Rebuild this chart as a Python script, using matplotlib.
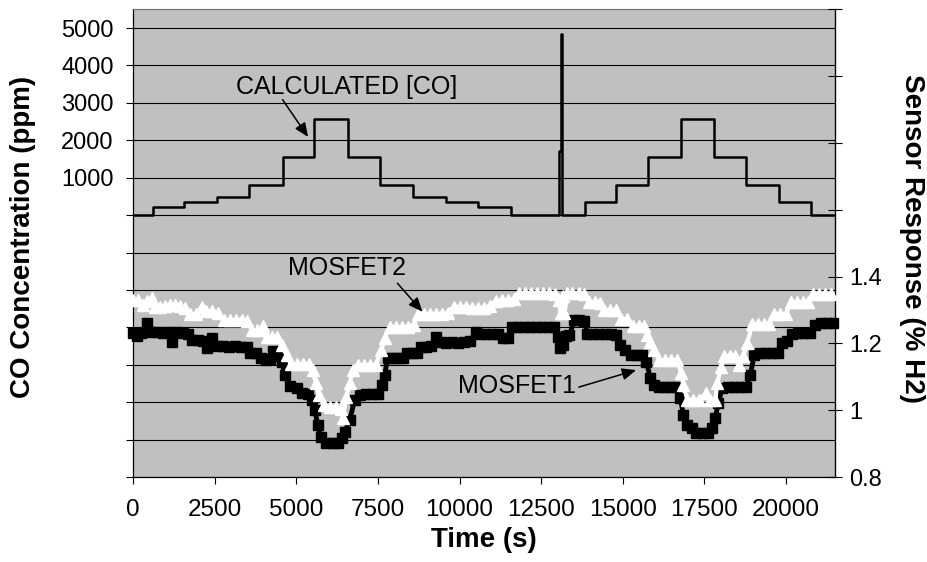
import matplotlib
matplotlib.use('Agg')
import matplotlib.pyplot as plt
from matplotlib import font_manager as fm
from matplotlib.ticker import FixedLocator, FixedFormatter

# ---------------- data ----------------
# Calculated CO concentration (ppm), step changes (steps-post)
co_time = [0, 604, 1570, 2581, 3562, 4578, 5549, 6570, 7556, 8558, 9569,
           10565, 11566, 13040, 13105, 13140, 13830, 14781, 15767, 16768,
           17780, 18776, 19777, 20768, 21500]
co_ppm = [0, 206, 340, 490, 800, 1550, 2570, 1550, 800, 490, 340,
          206, 0, 1720, 4845, 0, 340, 800, 1550, 2570,
          1550, 800, 340, 0, 0]

# MOSFET1 response (% H2)
m1_time = [0, 116, 239, 413, 545, 728, 912, 1065, 1178, 1340,
           1524, 1677, 1799, 1983, 2136, 2249, 2402, 2564, 2748, 2931,
           3115, 3299, 3473, 3574, 3758, 3911, 4064, 4186, 4278, 4431,
           4553, 4645, 4798, 5003, 5165, 5349, 5471, 5563, 5655, 5747,
           5921, 6114, 6276, 6389, 6481, 6634, 6787, 6940, 7124, 7307,
           7491, 7613, 7705, 7797, 7950, 8103, 8256, 8378, 8531, 8684,
           8807, 8960, 9113, 9287, 9419, 9572, 9755, 9939, 10123, 10306,
           10511, 10612, 10796, 10979, 11163, 11316, 11469, 11591, 11775, 11959,
           12142, 12326, 12509, 12693, 12877, 12999, 13060, 13152, 13244, 13366,
           13519, 13672, 13825, 13917, 14100, 14284, 14468, 14651, 14804, 14926,
           15079, 15263, 15446, 15599, 15722, 15844, 15966, 16119, 16303, 16487,
           16640, 16762, 16854, 16976, 17129, 17252, 17435, 17619, 17741, 17833,
           17925, 18047, 18231, 18414, 18598, 18782, 18904, 19026, 19210, 19393,
           19577, 19761, 19883, 20036, 20189, 20372, 20556, 20739, 20892, 21076,
           21260, 21443]
m1_resp = [1.231, 1.222, 1.231, 1.261, 1.234, 1.234, 1.231, 1.234, 1.204, 1.234,
           1.231, 1.228, 1.210, 1.210, 1.207, 1.186, 1.216, 1.192, 1.192, 1.189,
           1.192, 1.189, 1.189, 1.171, 1.171, 1.156, 1.150, 1.153, 1.177, 1.162,
           1.144, 1.105, 1.072, 1.066, 1.051, 1.049, 1.031, 1.001, 0.956, 0.920,
           0.902, 0.902, 0.902, 0.917, 0.935, 0.971, 1.031, 1.046, 1.049, 1.049,
           1.049, 1.075, 1.105, 1.156, 1.156, 1.156, 1.156, 1.171, 1.171, 1.171,
           1.189, 1.189, 1.192, 1.219, 1.204, 1.201, 1.204, 1.201, 1.204, 1.207,
           1.234, 1.228, 1.228, 1.228, 1.228, 1.216, 1.216, 1.249, 1.249, 1.249,
           1.249, 1.249, 1.249, 1.249, 1.249, 1.219, 1.186, 1.195, 1.222, 1.225,
           1.270, 1.270, 1.267, 1.228, 1.228, 1.228, 1.228, 1.228, 1.225, 1.195,
           1.180, 1.165, 1.165, 1.165, 1.144, 1.096, 1.075, 1.069, 1.069, 1.069,
           1.069, 1.037, 0.986, 0.956, 0.947, 0.932, 0.932, 0.932, 0.947, 0.977,
           1.022, 1.066, 1.069, 1.069, 1.069, 1.069, 1.105, 1.165, 1.171, 1.171,
           1.171, 1.171, 1.201, 1.207, 1.228, 1.231, 1.231, 1.231, 1.255, 1.261,
           1.261, 1.261]

# MOSFET2 response (% H2)
m2_time = [0, 147, 300, 422, 566, 667, 820, 973, 1126, 1279,
           1432, 1585, 1738, 1921, 2096, 2228, 2411, 2595, 2778, 2962,
           3146, 3329, 3482, 3635, 3788, 3911, 3972, 4094, 4247, 4400,
           4544, 4697, 4829, 5012, 5196, 5379, 5502, 5594, 5686, 5839,
           6022, 6206, 6359, 6420, 6533, 6634, 6726, 6879, 7062, 7246,
           7429, 7604, 7705, 7858, 8042, 8225, 8409, 8593, 8715, 8899,
           9083, 9266, 9450, 9633, 9817, 10000, 10184, 10367, 10551, 10735,
           10918, 11102, 11285, 11469, 11653, 11806, 11989, 12173, 12356, 12540,
           12724, 12907, 13030, 13091, 13152, 13213, 13305, 13458, 13642, 13825,
           13978, 14162, 14315, 14437, 14621, 14804, 14957, 15141, 15324, 15508,
           15661, 15753, 15844, 15967, 16120, 16303, 16487, 16670, 16784, 16854,
           16976, 17160, 17344, 17549, 17680, 17833, 17895, 18008, 18109, 18293,
           18446, 18568, 18690, 18813, 18966, 19149, 19333, 19486, 19639, 19822,
           20006, 20159, 20342, 20526, 20679, 20832, 21016, 21199, 21383]
m2_resp = [1.330, 1.330, 1.315, 1.327, 1.336, 1.309, 1.309, 1.312, 1.315, 1.315,
           1.312, 1.306, 1.288, 1.288, 1.309, 1.297, 1.297, 1.291, 1.270, 1.270,
           1.270, 1.270, 1.267, 1.240, 1.240, 1.240, 1.252, 1.219, 1.219, 1.219,
           1.195, 1.165, 1.138, 1.138, 1.138, 1.138, 1.120, 1.081, 1.046, 1.016,
           1.010, 1.010, 1.004, 0.977, 1.040, 1.081, 1.120, 1.135, 1.135, 1.135,
           1.135, 1.180, 1.216, 1.249, 1.249, 1.249, 1.249, 1.255, 1.288, 1.288,
           1.288, 1.288, 1.288, 1.291, 1.309, 1.309, 1.309, 1.306, 1.306, 1.306,
           1.312, 1.327, 1.330, 1.330, 1.333, 1.351, 1.351, 1.351, 1.351, 1.351,
           1.351, 1.348, 1.330, 1.291, 1.342, 1.291, 1.351, 1.351, 1.351, 1.348,
           1.324, 1.324, 1.321, 1.300, 1.300, 1.300, 1.273, 1.273, 1.252, 1.252,
           1.252, 1.225, 1.204, 1.180, 1.150, 1.150, 1.150, 1.150, 1.111, 1.075,
           1.031, 1.031, 1.031, 1.051, 1.031, 1.031, 1.081, 1.129, 1.162, 1.162,
           1.162, 1.135, 1.162, 1.201, 1.258, 1.258, 1.258, 1.258, 1.288, 1.288,
           1.288, 1.324, 1.324, 1.324, 1.324, 1.348, 1.348, 1.348, 1.348]

x_ticks = [0, 2500, 5000, 7500, 10000, 12500, 15000, 17500, 20000]
x_labels = ['0', '2500', '5000', '7500', '10000', '12500', '15000', '17500', '20000']
left_ticks = [-7000, -6000, -5000, -4000, -3000, -2000, -1000, 0,
              1000, 2000, 3000, 4000, 5000]
left_labels = ['', '', '', '', '', '', '', '', '1000', '2000', '3000', '4000', '5000']
right_ticks = [0.8, 1.0, 1.2, 1.4, 1.6, 1.8, 2.0, 2.2]
right_labels = ['0.8', '1', '1.2', '1.4', '', '', '', '']

# ---------------- fonts ----------------
avail = {f.name for f in fm.fontManager.ttflist}
BASE = 'Liberation Sans'
if 'Liberation Sans Narrow' in avail:
    NARROW, XT_SIZE, XL_SIZE = 'Liberation Sans Narrow', 21, 22
else:
    NARROW, XT_SIZE, XL_SIZE = 'Liberation Sans', 17.5, 20
plt.rcParams['font.family'] = [BASE, 'DejaVu Sans']

# ---------------- figure ----------------
W, H = 927, 562
L, R, T, B = 133.2, 835.0, 9.3, 477.0
fig = plt.figure(figsize=(W / 100, H / 100), dpi=100)
ax = fig.add_axes([L / W, 1 - B / H, (R - L) / W, (B - T) / H])
ax.set_facecolor('#C0C0C0')
ax.set_xlim(0, 21500)
ax.set_ylim(-7000, 5500)

ax.xaxis.set_major_locator(FixedLocator(x_ticks))
ax.xaxis.set_major_formatter(FixedFormatter(x_labels))
ax.yaxis.set_major_locator(FixedLocator(left_ticks))
ax.yaxis.set_major_formatter(FixedFormatter(left_labels))
ax.grid(axis='y', color='black', lw=0.8)
ax.set_axisbelow(True)

ax.step(co_time, co_ppm, where='post', color='black', lw=1.8, zorder=3)

ax.tick_params(axis='y', direction='out', length=5, width=0.8, pad=9,
               labelsize=17, colors='black')
ax.tick_params(axis='x', direction='out', length=5, width=0.8, pad=11)
for lbl in ax.get_xticklabels():
    lbl.set_fontfamily(NARROW)
    lbl.set_fontsize(XT_SIZE)

for s in ['left', 'bottom']:
    ax.spines[s].set_color('black')
    ax.spines[s].set_linewidth(0.9)
ax.spines['top'].set_color('#707070')
ax.spines['right'].set_color('black')

ax.set_ylabel('CO Concentration (ppm)', fontsize=20, fontweight='bold',
              ha='center', va='center')
ax.yaxis.set_label_coords((22.5 - L) / (R - L), (B - 236.5) / (B - T))
ax.set_xlabel('Time (s)', fontsize=XL_SIZE, fontweight='bold', family=NARROW,
              ha='center', va='center')
ax.xaxis.set_label_coords(0.5, (B - 540) / (B - T))

ax.text(6527, 3426, 'CALCULATED [CO]', fontsize=18, ha='center', va='center',
        zorder=4)
ax.annotate('', xy=(5358, 2088), xytext=(4575, 3086),
            arrowprops=dict(arrowstyle='-|>,head_length=0.7,head_width=0.3',
                            color='black', lw=1.1, shrinkA=0, shrinkB=0,
                            mutation_scale=12), zorder=4)

# ---------------- right axis ----------------
ax2 = ax.twinx()
ax2.set_ylim(0.8, 2.2)
ax2.yaxis.set_major_locator(FixedLocator(right_ticks))
ax2.yaxis.set_major_formatter(FixedFormatter(right_labels))
ax2.tick_params(axis='y', direction='inout', length=10, width=0.8, pad=5,
                labelsize=17)
for s in ['left', 'top', 'bottom']:
    ax2.spines[s].set_visible(False)
ax2.spines['right'].set_color('black')
ax2.spines['right'].set_linewidth(0.9)

ax2.plot(m1_time, m1_resp, color='black', lw=3.5, marker='s', ms=7.5,
         mfc='black', mec='black', solid_joinstyle='miter',
         clip_on=False, zorder=3)
ax2.plot(m2_time, m2_resp, color='white', lw=3.0, marker='^', ms=8.5,
         mfc='white', mec='white', clip_on=False, zorder=4)

ax2.set_ylabel('Sensor Response (% H2)', fontsize=20, fontweight='bold',
               rotation=270, ha='center', va='center')
ax2.yaxis.set_label_coords((912 - L) / (R - L), (B - 238.5) / (B - T))

ax2.text(6558, 1.426, 'MOSFET2', fontsize=18, ha='center', va='center', zorder=5)
ax2.annotate('', xy=(8859, 1.295), xytext=(8094, 1.380),
             arrowprops=dict(arrowstyle='-|>,head_length=0.7,head_width=0.3',
                             color='black', lw=1.1, shrinkA=0, shrinkB=0,
                             mutation_scale=12), zorder=5)
ax2.text(11760, 1.072, 'MOSFET1', fontsize=18, ha='center', va='center', zorder=5)
ax2.annotate('', xy=(15407, 1.120), xytext=(13651, 1.069),
             arrowprops=dict(arrowstyle='-|>,head_length=0.7,head_width=0.3',
                             color='black', lw=1.1, shrinkA=0, shrinkB=0,
                             mutation_scale=12), zorder=5)

fig.savefig('out.png', dpi=100)
